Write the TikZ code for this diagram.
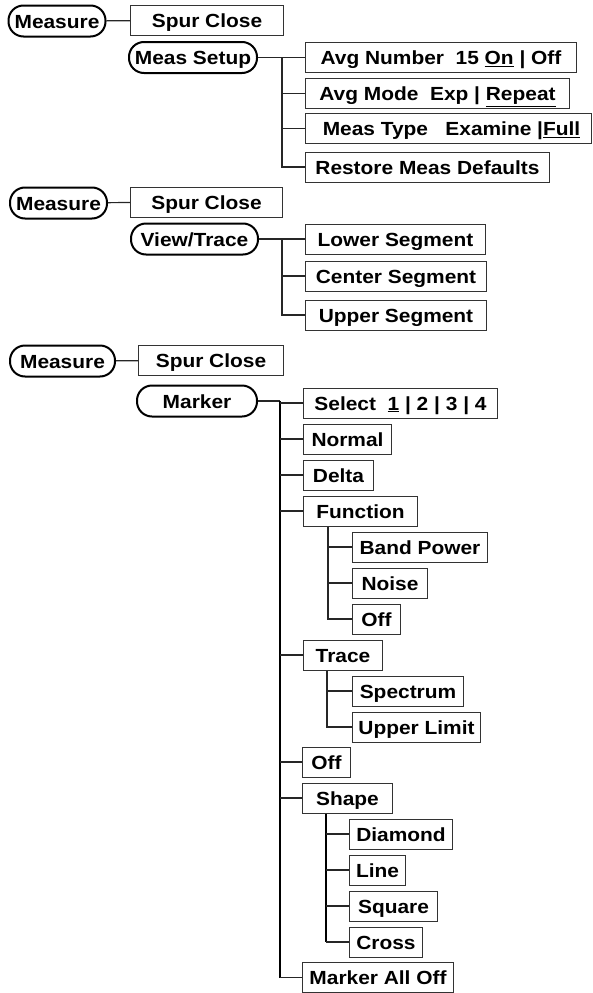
\documentclass[tikz,border=0pt]{standalone}
\usepackage{fontspec}
\setmainfont{Liberation Sans}[FakeStretch=1.1]
\usepackage{tikz}
\usetikzlibrary{positioning}

\begin{document}
\begin{tikzpicture}[x=1pt, y=-1pt]
%\draw[very thin, color = gray](0, 0) grid[step=50] (592, 993);
\tikzstyle{hardkey} = [draw, rounded corners=15pt, line width=2pt,
  minimum height=31pt, inner sep=0pt, text height=14pt, text depth=0pt,
  font=\bfseries\fontsize{19}{24}\selectfont];
\tikzstyle{softkey} = [draw=black!80, rectangle, line width=1pt, anchor=west,
  minimum height=30pt, inner sep=0pt, text height=14pt, text depth=0pt,
  font=\bfseries\fontsize{19}{24}\selectfont];
\tikzstyle{line} = [draw, black!85, line width=1.2pt]
\tikzstyle{trunk} = [draw, black, line width=2pt]
\useasboundingbox (0, 0) rectangle (592, 993);
% trunk positions
\coordinate (tA) at (282, 0);
\coordinate (tB) at (282, 0);
\coordinate (tM) at (280, 0);
\coordinate (tF) at (328, 0);
\coordinate (tT) at (327, 0);
\coordinate (tS) at (326, 0);
% measure setup
\node [hardkey, minimum width=97pt] at (57, 21) (meas1) {Measure};
\node [softkey, minimum width=153pt] at (130, 20.5) (spur1) {Spur Close};
\node [hardkey, minimum width=128pt] at (193, 57.5) (setup) {Meas Setup};
\node [softkey, minimum width=271pt] at (305, 57.5) (avgnum) {Avg Number\ \ 15 \underline{On} | Off};
\node [softkey, minimum width=264pt] at (305, 93.5) (avgmode) {Avg Mode\ \ Exp | \underline{Repeat}};
\node [softkey, minimum width=286pt] at (305, 128.5) (meastype) {\hspace{6pt}Meas Type\ \ \ Examine |\underline{Full}};
\node [softkey, minimum width=244pt] at (305, 167) (restore) {Restore Meas Defaults};
\path [line] (meas1) -- (spur1);
\path [line] (setup) -- (avgnum);
\path [line] (setup.east -| tA) |- (avgmode.west);
\path [line] (setup.east -| tA) |- (meastype.west);
\path [line] (setup.east -| tA) |- (restore.west);
% view/trace
\node [hardkey, minimum width=97pt] at (58.5, 203) (meas2) {Measure};
\node [softkey, minimum width=152pt] at (130, 202) (spur2) {Spur Close};
\node [hardkey, minimum width=127pt] at (194.5, 239) (view) {View/Trace};
\node [softkey, minimum width=180pt] at (305, 239) (lower) {Lower Segment};
\node [softkey, minimum width=181pt] at (305, 276) (centerseg) {Center Segment};
\node [softkey, minimum width=181pt] at (305, 315) (upper) {Upper Segment};
\path [line] (meas2) -- (spur2);
\path [line] (view) -- (lower);
\path [line] (view.east -| tB) |- (centerseg.west);
\path [line] (view.east -| tB) |- (upper.west);
% marker
\node [hardkey, minimum width=105pt] at (62.5, 361) (meas3) {Measure};
\node [softkey, minimum width=145pt] at (138, 360.5) (spur3) {Spur Close};
\node [hardkey, minimum width=120pt] at (197, 401) (marker) {Marker};
\node [softkey, minimum width=194pt] at (303, 403) (select) {Select\ \ \underline{1} | 2 | 3 | 4};
\node [softkey, minimum width=88pt] at (303, 439) (normal) {Normal};
\node [softkey, minimum width=70pt] at (303, 475) (delta) {Delta};
\node [softkey, minimum width=114pt] at (303, 511) (function) {Function};
\node [softkey, minimum width=135pt] at (352, 547) (band) {Band Power};
\node [softkey, minimum width=75pt] at (352, 583) (noise) {Noise};
\node [softkey, minimum width=48pt] at (352, 619) (fnoff) {Off};
\node [softkey, minimum width=79pt] at (303, 655) (trace) {Trace};
\node [softkey, minimum width=111pt] at (352, 691) (spectrum) {Spectrum};
\node [softkey, minimum width=128pt] at (352, 727) (limit) {Upper Limit};
\node [softkey, minimum width=48pt] at (302, 762) (mkoff) {Off};
\node [softkey, minimum width=90pt] at (302, 798) (shape) {Shape};
\node [softkey, minimum width=103pt] at (349, 834) (diamond) {Diamond};
\node [softkey, minimum width=56pt] at (349, 870) (shline) {Line};
\node [softkey, minimum width=88pt] at (349, 906) (square) {Square};
\node [softkey, minimum width=73pt] at (349, 942) (cross) {Cross};
\node [softkey, minimum width=151pt] at (302, 977.5) (alloff) {Marker All Off};
\path [line] (meas3) -- (spur3);
\path [line] (marker.east) -- (marker.east -| tM);
\path [trunk] (marker.east -| tM) -- (tM |- alloff.west);
\path [line] (tM |- select.west) -- (select.west);
\path [line] (tM |- normal.west) -- (normal.west);
\path [line] (tM |- delta.west) -- (delta.west);
\path [line] (tM |- function.west) -- (function.west);
\path [line] (tM |- trace.west) -- (trace.west);
\path [line] (tM |- mkoff.west) -- (mkoff.west);
\path [line] (tM |- shape.west) -- (shape.west);
\path [line] (tM |- alloff.west) -- (alloff.west);
\path [line] (function.south -| tF) |- (band.west);
\path [line] (function.south -| tF) |- (noise.west);
\path [line] (function.south -| tF) |- (fnoff.west);
\path [line] (trace.south -| tT) |- (spectrum.west);
\path [line] (trace.south -| tT) |- (limit.west);
\path [trunk, line width=1.6pt] (shape.south -| tS) -- (tS |- cross.west);
\path [line] (tS |- diamond.west) -- (diamond.west);
\path [line] (tS |- shline.west) -- (shline.west);
\path [line] (tS |- square.west) -- (square.west);
\path [line] (tS |- cross.west) -- (cross.west);
\end{tikzpicture}
\end{document}
